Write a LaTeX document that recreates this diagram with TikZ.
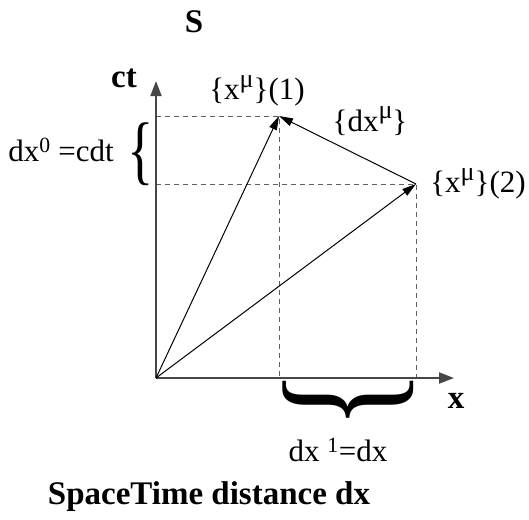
\documentclass[tikz,border=0pt]{standalone}
\usepackage{fontspec}
\setmainfont{Liberation Serif}
\usepackage{tikz}
\usepackage{xcolor}
\usetikzlibrary{arrows.meta}
\definecolor{axgray}{RGB}{70,70,70}
\definecolor{dashgray}{RGB}{95,95,95}
\newcommand{\upmu}{\raisebox{0.4em}{\fontsize{26}{26}\selectfont μ}}

\begin{document}
\begin{tikzpicture}[x=1pt,y=-1pt,
  lbl/.style={inner sep=0pt,font=\fontsize{31}{31}\selectfont},
  blbl/.style={inner sep=0pt,font=\fontsize{33}{33}\selectfont\bfseries},
  axis/.style={line width=2pt,axgray,-{Triangle[length=15pt,width=11pt]}},
  vec/.style={line width=1pt,-{Triangle[length=14pt,width=8pt]}},
  guide/.style={dashgray,line width=1pt,dash pattern=on 5pt off 4pt},
  curly/.style={inner sep=0pt}]
  \useasboundingbox (0,0) rectangle (529,519);
  % frame S
  \coordinate (O) at (156,378);
  \coordinate (ctEnd) at (156,81);
  \coordinate (xEnd) at (454,378);
  \coordinate (P1) at (279,116);
  \coordinate (P2) at (416,184);
  % projections
  \draw[guide] (O |- P1) -- (P1) -- (P1 |- O);
  \draw[guide] (O |- P2) -- (P2) -- (P2 |- O);
  \draw[axis] (O) -- (ctEnd);
  \draw[axis] (O) -- (xEnd);
  \draw[vec] (O) -- (P1);
  \draw[vec] (O) -- (P2);
  \draw[vec] (P2) -- (P1);
  % braces
  \node[curly] (brace0) at (141,154) {\scalebox{0.72}[1]{\fontsize{76}{76}\selectfont\{}};
  \node[curly,rotate=90] (brace1) at (348,400) {\scalebox{0.8}[1.02]{\fontsize{155}{155}\selectfont\{}};
  % labels
  \node[blbl] (sLbl) at (194,22) {S};
  \node[blbl] (ctLbl) at (124,78) {ct};
  \node[blbl] (xLbl) at (456,401) {x};
  \node[lbl] (p1Lbl) at (257,91) {\{x\upmu\}(1)};
  \node[lbl] (dxLbl) at (370,121) {\{dx\upmu\}};
  \node[lbl] (p2Lbl) at (478,184) {\{x\upmu\}(2)};
  \node[lbl] (dx0Lbl) at (61,150) {dx\textsuperscript{0} =cdt};
  \node[lbl] (dx1Lbl) at (338,450) {dx \textsuperscript{1}=dx};
  \node[blbl] (title) at (209,497) {SpaceTime distance dx};
\end{tikzpicture}
\end{document}
